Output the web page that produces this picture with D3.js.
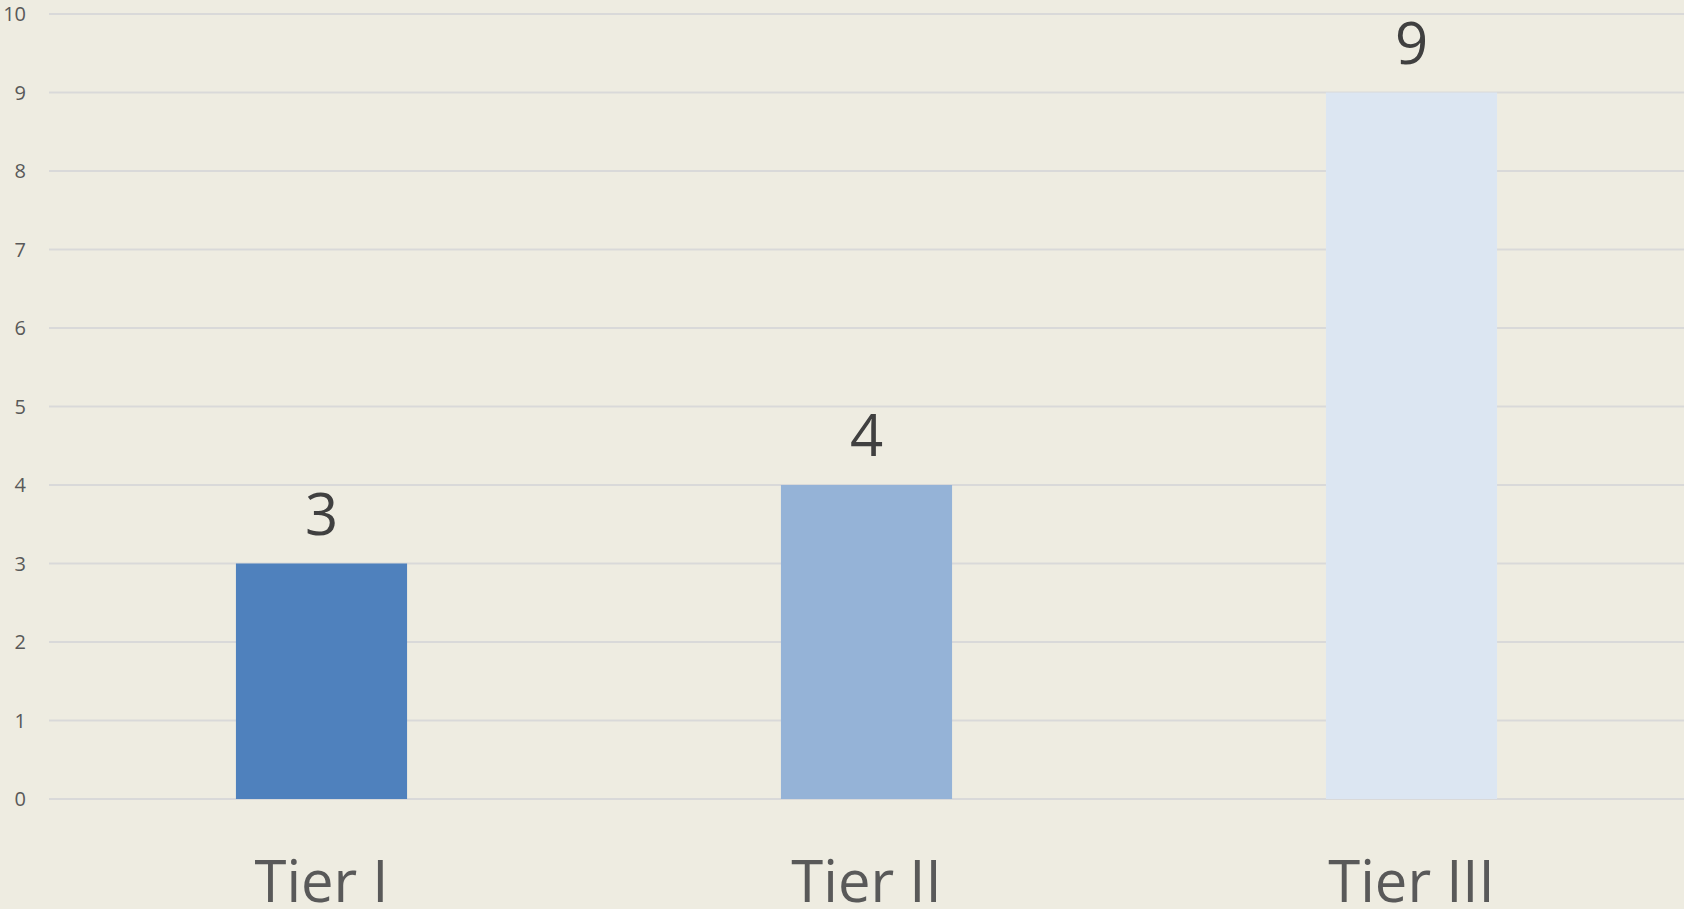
<!DOCTYPE html>
<html>
<head>
<meta charset="utf-8">
<script src="https://cdn.jsdelivr.net/npm/d3@7"></script>
<style>
  html, body { margin: 0; padding: 0; background: #EEECE1; overflow: hidden; }
  svg { display: block; font-family: "Open Sans", sans-serif; }
</style>
</head>
<body>
<div class="chart"></div>
<script>
// data
const categories = ['Tier I', 'Tier II', 'Tier III'];
const values = [3, 4, 9];
const yTicks = [0, 1, 2, 3, 4, 5, 6, 7, 8, 9, 10];

// dimensions
const width = 1684;
const height = 909;
const margin = { top: 14, right: 0, bottom: 110, left: 49 };
const innerWidth = width - margin.left - margin.right;
const innerHeight = height - margin.top - margin.bottom;

// colors
const bg = '#EEECE1';
const gridColor = '#D9D9D9';
const barColors = ['#4F81BD', '#95B3D7', '#DCE6F2'];

const svg = d3.select('.chart')
  .append('svg')
    .attr('width', width)
    .attr('height', height);

svg.append('rect')
  .attr('width', width)
  .attr('height', height)
  .attr('fill', bg);

const innerChart = svg.append('g')
  .attr('transform', `translate(${margin.left}, ${margin.top})`);

// scales
const xScale = d3.scaleBand()
  .domain(categories)
  .range([0, innerWidth])
  .paddingInner(0.686)
  .paddingOuter(0.343);

const yScale = d3.scaleLinear()
  .domain([0, 10])
  .range([innerHeight, 0]);

// gridlines
innerChart.selectAll('.grid')
  .data(yTicks)
  .join('line')
    .attr('class', 'grid')
    .attr('x1', 0)
    .attr('x2', innerWidth)
    .attr('y1', d => yScale(d))
    .attr('y2', d => yScale(d))
    .attr('stroke', gridColor)
    .attr('stroke-width', 2);

// y tick labels
innerChart.selectAll('.ytick')
  .data(yTicks)
  .join('text')
    .attr('class', 'ytick')
    .text(d => d)
    .attr('x', -23)
    .attr('y', d => yScale(d))
    .attr('dy', '0.36em')
    .attr('text-anchor', 'end')
    .attr('fill', '#595959')
    .attr('font-size', 20);

// bars
innerChart.selectAll('.bar')
  .data(values)
  .join('rect')
    .attr('class', 'bar')
    .attr('x', (d, i) => xScale(categories[i]))
    .attr('y', d => yScale(d))
    .attr('width', xScale.bandwidth())
    .attr('height', d => innerHeight - yScale(d))
    .attr('fill', (d, i) => barColors[i]);

// value labels
innerChart.selectAll('.value')
  .data(values)
  .join('text')
    .attr('class', 'value')
    .text(d => d)
    .attr('x', (d, i) => xScale(categories[i]) + xScale.bandwidth() / 2)
    .attr('y', d => yScale(d) - 29)
    .attr('text-anchor', 'middle')
    .attr('fill', '#404040')
    .attr('font-size', 58);

// category labels
innerChart.selectAll('.cat')
  .data(categories)
  .join('text')
    .attr('class', 'cat')
    .text(d => d)
    .attr('x', d => xScale(d) + xScale.bandwidth() / 2)
    .attr('y', innerHeight + 103)
    .attr('text-anchor', 'middle')
    .attr('fill', '#595959')
    .attr('font-size', 58);
</script>
</body>
</html>
